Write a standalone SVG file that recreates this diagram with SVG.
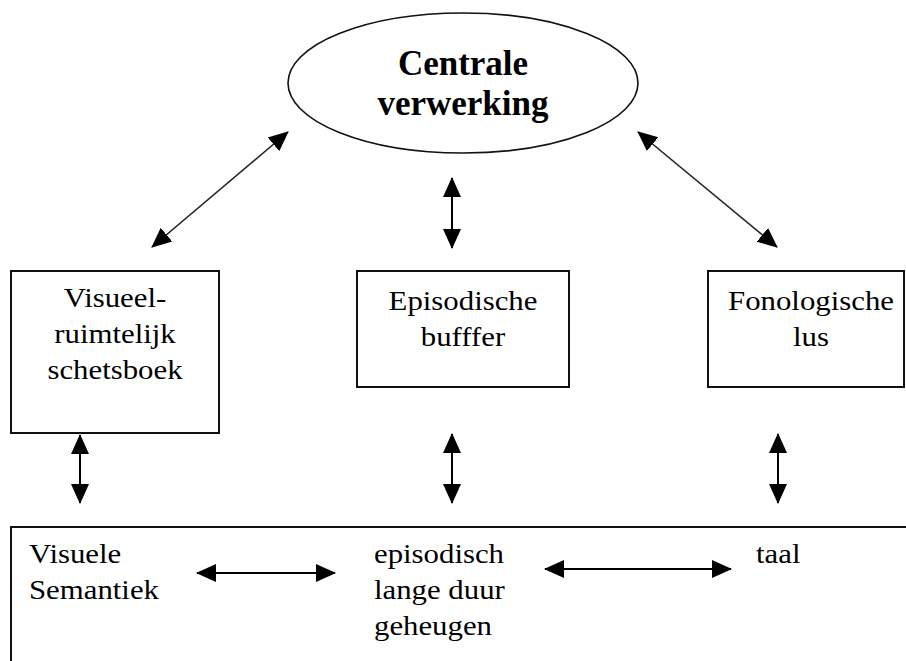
<svg xmlns="http://www.w3.org/2000/svg" width="906" height="661" viewBox="0 0 906 661">
<style>
.box{fill:#fff;stroke:#111;stroke-width:2}
.t{font-family:'Liberation Serif','Times New Roman',serif;font-size:28px;fill:#000}
.c{text-anchor:middle}
.b{font-weight:bold;font-size:35px}
.ln{stroke:#000;stroke-width:2;fill:none;marker-start:url(#ah);marker-end:url(#ah)}
.dg{stroke:#222;stroke-width:1.6}
</style>
<defs>
<marker id="ah" markerUnits="userSpaceOnUse" markerWidth="20" markerHeight="20" refX="19" refY="10" orient="auto-start-reverse" viewBox="0 0 20 20">
<path d="M0,1 L20,10 L0,19 z" fill="#000"/>
</marker>
</defs>
<rect width="906" height="661" fill="#fff"/>
<g id="centrale">
<ellipse cx="463" cy="83" rx="175" ry="70" fill="#fff" stroke="#111" stroke-width="1.6"/>
<text class="t c b" x="463" y="75">Centrale</text>
<text class="t c b" x="463" y="115">verwerking</text>
</g>
<g id="visueel">
<rect class="box" x="11" y="271" width="208" height="162"/>
<text class="t c" transform="translate(115 307) scale(1.1 1)">Visueel-</text>
<text class="t c" transform="translate(115 343) scale(1.1 1)">ruimtelijk</text>
<text class="t c" transform="translate(115 379) scale(1.1 1)">schetsboek</text>
</g>
<g id="episodisch">
<rect class="box" x="357" y="271" width="212" height="116"/>
<text class="t c" transform="translate(463 310) scale(1.1 1)">Episodische</text>
<text class="t c" transform="translate(463 346) scale(1.1 1)">bufffer</text>
</g>
<g id="fonologisch">
<rect class="box" x="708" y="271" width="196" height="116"/>
<text class="t c" transform="translate(811 310) scale(1.1 1)">Fonologische</text>
<text class="t c" transform="translate(811 346) scale(1.1 1)">lus</text>
</g>
<g id="langetermijn">
<rect class="box" x="11" y="527" width="910" height="150"/>
<text class="t" transform="translate(29 563) scale(1.1 1)">Visuele</text>
<text class="t" transform="translate(29 599) scale(1.1 1)">Semantiek</text>
<text class="t" transform="translate(374 563) scale(1.1 1)">episodisch</text>
<text class="t" transform="translate(374 599) scale(1.1 1)">lange duur</text>
<text class="t" transform="translate(374 635) scale(1.1 1)">geheugen</text>
<text class="t" transform="translate(756 563) scale(1.1 1)">taal</text>
</g>
<g id="connectors">
<line class="ln dg" x1="152" y1="247" x2="288" y2="132"/>
<line class="ln dg" x1="638" y1="132" x2="777" y2="247"/>
<line class="ln" x1="452" y1="178" x2="452" y2="248"/>
<line class="ln" x1="80" y1="435" x2="80" y2="503"/>
<line class="ln" x1="452" y1="434" x2="452" y2="503"/>
<line class="ln" x1="778" y1="434" x2="778" y2="503"/>
<line class="ln" x1="197" y1="573" x2="335" y2="573"/>
<line class="ln" x1="545" y1="569" x2="731" y2="569"/>
</g>
</svg>
